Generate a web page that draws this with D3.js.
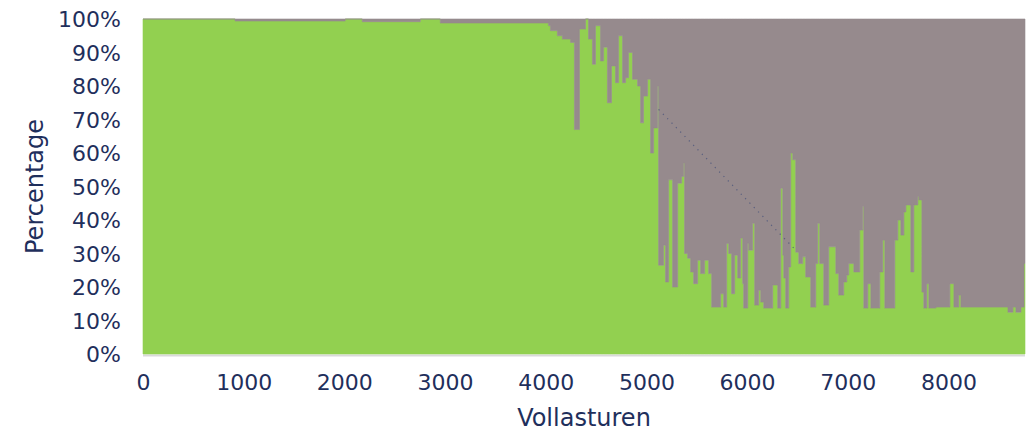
<!DOCTYPE html>
<html>
<head>
<meta charset="utf-8">
<script src="https://cdn.jsdelivr.net/npm/d3@7"></script>
<style>
  html, body { margin: 0; padding: 0; background: #ffffff; }
  svg { display: block; }
  .tick text { font-family: "DejaVu Sans", Verdana, sans-serif; }
</style>
</head>
<body>
<svg id="chart" width="1033" height="433"></svg>
<script>
// ---- Data ----
// Hour at which each step begins (Vollasturen)
const hours = [0, 915, 2008, 2178, 2754, 2953, 4027, 4047, 4116, 4166, 4246, 4285, 4335, 4395, 4425, 4464, 4494, 4544, 4574, 4613, 4653, 4693, 4723, 4763, 4793, 4822, 4862, 4912, 4942, 4971, 5011, 5041, 5071, 5111, 5121, 5170, 5190, 5220, 5260, 5310, 5349, 5369, 5379, 5409, 5439, 5469, 5508, 5538, 5578, 5618, 5648, 5737, 5767, 5797, 5817, 5846, 5876, 5906, 5936, 5956, 5966, 6006, 6016, 6055, 6075, 6115, 6135, 6165, 6254, 6304, 6334, 6354, 6364, 6383, 6413, 6433, 6453, 6483, 6513, 6552, 6582, 6632, 6682, 6702, 6721, 6761, 6811, 6881, 6910, 6960, 6990, 7010, 7060, 7119, 7149, 7159, 7199, 7229, 7318, 7348, 7368, 7467, 7497, 7527, 7557, 7577, 7626, 7656, 7696, 7706, 7736, 7755, 7785, 7805, 7875, 8014, 8054, 8103, 8123, 8591, 8640, 8670, 8720, 8750];
// Green share (%) for each step
const greenShare = [100, 99.4, 100, 99.2, 100, 98.8, 98, 96.5, 95, 94, 93, 67, 97, 100, 94, 86.5, 98, 87.5, 91.6, 75, 86, 81, 95, 81, 82.5, 90, 82, 80, 69, 77, 82, 60, 67.5, 80, 26.5, 32.5, 21.5, 52, 20, 51, 53, 57, 30, 28.6, 24.5, 21, 28, 24, 28, 24, 14, 18, 14, 33, 30, 18, 29.5, 22.7, 34.6, 21, 13.7, 33, 31, 39, 14.6, 19, 15.5, 13.7, 20.6, 13.7, 49.5, 29.5, 22.7, 13.7, 26, 60, 58, 30.4, 27, 29, 23, 14, 27, 39, 27, 14.6, 32, 24, 17.6, 21.5, 23.6, 27, 24.5, 37, 44, 13.7, 21, 13.7, 24.5, 34, 13.7, 34, 40, 35.5, 42.4, 44.5, 24.5, 44.5, 47, 46, 18.5, 13.7, 21, 13.7, 14, 21, 14, 17.6, 14, 12.5, 14, 12.5, 14, 27];
// Interpolated connector visible as a dotted line (hour, %)
const gapHours = [5121, 6483];
const gapShare = [73, 31];
// Axis ticks
const xTicks = [0, 1000, 2000, 3000, 4000, 5000, 6000, 7000, 8000];
const yTicks = [0, 10, 20, 30, 40, 50, 60, 70, 80, 90, 100];
const xMax = 8760;
const seriesColors = ["#92d050", "#968a8d"];
const textColor = "#1f2f5c";

// ---- Build ----
const svg = d3.select("#chart");
const margin = { left: 143, right: 8, top: 19, bottom: 79 };
const W = 1033, H = 433;

const x = d3.scaleLinear().domain([0, xMax]).range([margin.left, W - margin.right]);
const y = d3.scaleLinear().domain([0, 100]).range([H - margin.bottom, margin.top]);

const rows = hours.map((h, i) => ({ h, green: greenShare[i], grey: 100 - greenShare[i] }));
rows.push({ h: xMax, green: greenShare[greenShare.length - 1], grey: 100 - greenShare[greenShare.length - 1] });

const stack = d3.stack().keys(["green", "grey"]);
const layers = stack(rows);

const area = d3.area()
  .curve(d3.curveStepAfter)
  .x(d => x(d.data.h))
  .y0(d => y(d[0]))
  .y1(d => y(d[1]));

// subtle shadow under the plot
svg.append("line")
  .attr("x1", x(0)).attr("x2", x(xMax))
  .attr("y1", y(0) + 1.5).attr("y2", y(0) + 1.5)
  .attr("stroke", "#d9d9d9").attr("stroke-width", 2);

svg.append("g").selectAll("path")
  .data(layers)
  .join("path")
  .attr("d", area)
  .attr("fill", (d, i) => seriesColors[i])
  .attr("stroke", (d, i) => seriesColors[i])
  .attr("stroke-width", 0.6);

// dotted connector line
const gapLine = d3.line().x(d => x(d[0])).y(d => y(d[1]));
svg.append("path")
  .attr("d", gapLine(gapHours.map((h, i) => [h, gapShare[i]])))
  .attr("fill", "none")
  .attr("stroke", "#44507a")
  .attr("stroke-width", 1.2)
  .attr("stroke-dasharray", "1.2,5")
  .attr("opacity", 0.75);

// axes
const fmtPct = d => d + "%";
const yAxis = svg.append("g")
  .attr("transform", `translate(${margin.left},0)`)
  .call(d3.axisLeft(y).tickValues(yTicks).tickFormat(fmtPct).tickSize(0).tickPadding(22));
yAxis.select(".domain").remove();
yAxis.selectAll("text").attr("fill", textColor).attr("font-size", 22).attr("dy", "0.36em");

const xAxis = svg.append("g")
  .attr("transform", `translate(0,${y(0)})`)
  .call(d3.axisBottom(x).tickValues(xTicks).tickFormat(d3.format("d")).tickSize(0).tickPadding(20));
xAxis.select(".domain").remove();
xAxis.selectAll("text").attr("fill", textColor).attr("font-size", 22);

// axis titles
svg.append("text")
  .attr("x", (x(0) + x(xMax)) / 2)
  .attr("y", 426)
  .attr("text-anchor", "middle")
  .attr("font-family", "DejaVu Sans, Verdana, sans-serif")
  .attr("font-size", 24)
  .attr("fill", textColor)
  .text("Vollasturen");

svg.append("text")
  .attr("transform", `translate(43,${(y(0) + y(100)) / 2}) rotate(-90)`)
  .attr("text-anchor", "middle")
  .attr("font-family", "DejaVu Sans, Verdana, sans-serif")
  .attr("font-size", 24)
  .attr("fill", textColor)
  .text("Percentage");
</script>
</body>
</html>
